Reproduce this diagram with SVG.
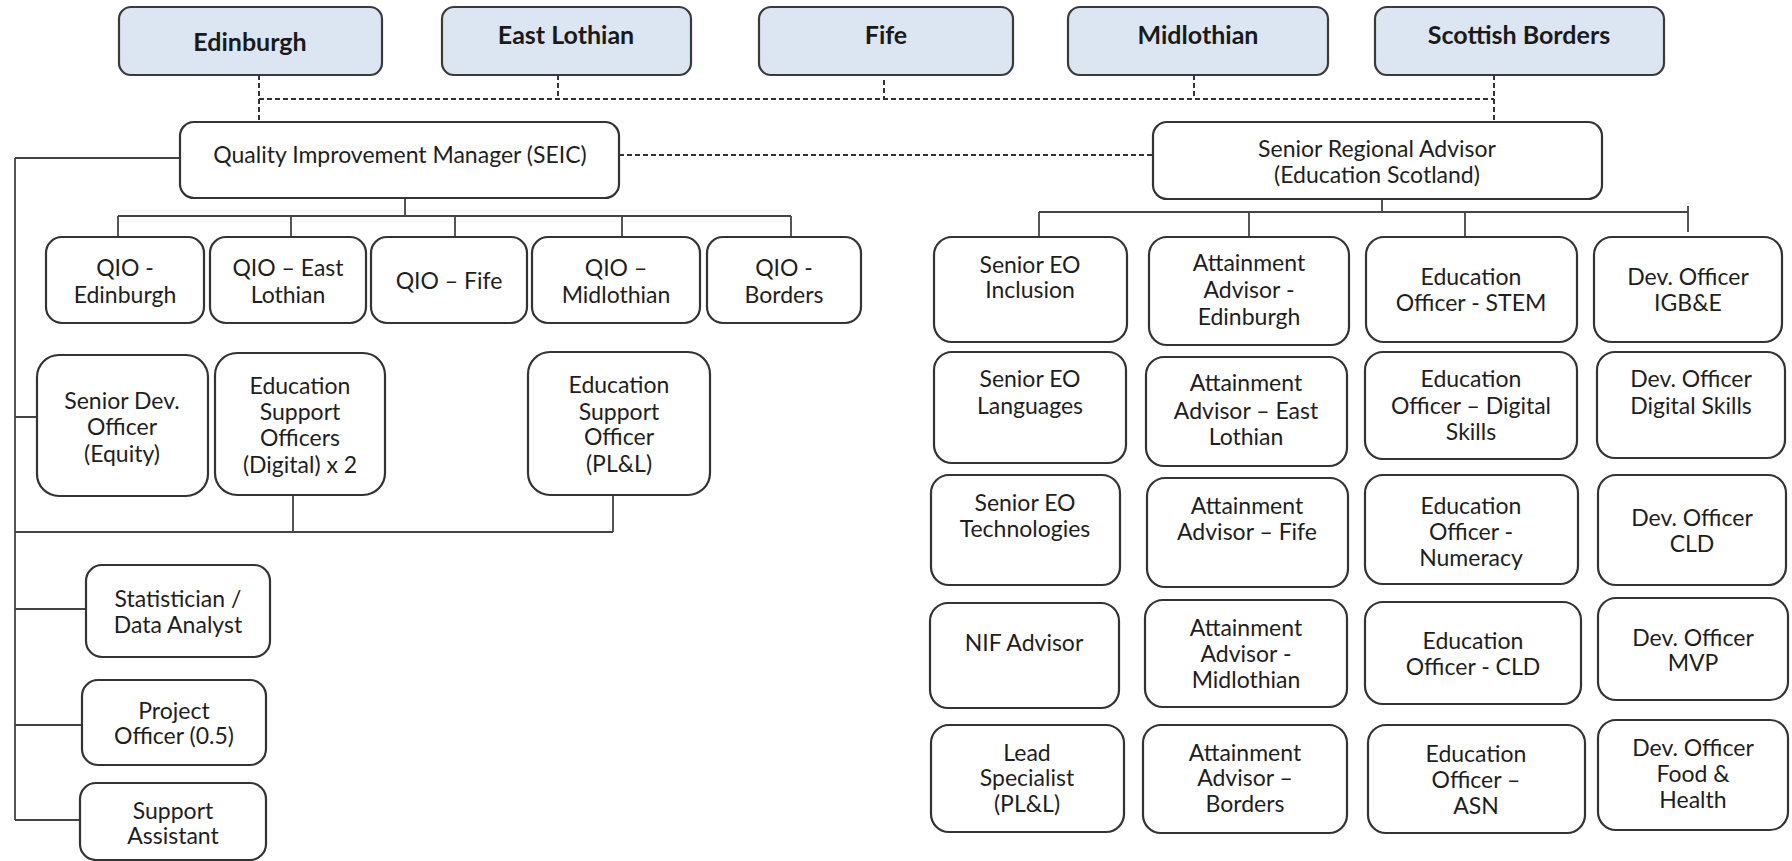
<svg xmlns="http://www.w3.org/2000/svg" width="1792" height="861" viewBox="0 0 1792 861">
<style>
.top{fill:#dce6f2;stroke:#3a3a3a;stroke-width:2.2}
.box{fill:#ffffff;stroke:#333333;stroke-width:2.2}
.tb{font-family:Lato,"Liberation Sans",sans-serif;font-weight:bold;font-size:25px;fill:#1a1a1a;text-anchor:middle}
.t{font-family:Lato,"Liberation Sans",sans-serif;font-size:23px;fill:#1e1e1e;text-anchor:middle}
.ln{stroke:#444;stroke-width:1.8;fill:none}
.dash{stroke:#333;stroke-width:2;stroke-dasharray:5 3;fill:none}
</style>
<rect width="1792" height="861" fill="#ffffff"/>
<g id="connectors">
<path class="dash" d="M259 75V122M558 75V99M884 80V99M1194 75V99M1494 75V122M259 99H1494M619 155H1153"/>
<path class="ln" d="M15 158V820M15 158H180M405 198V216M118 216H791M118 216V237M291 216V237M455 216V237M622 216V237M791 216V237M15 417H37M293 495V532M613 495V532M15 532H613M15 609H86M15 725H82M15 820H80M1382 199V212M1039 212H1688M1039 212V237M1249 212V237M1465 212V237M1688 206V232"/>
</g>
<g id="edinburgh"><rect class="top" x="119" y="7" width="263" height="68" rx="12"/><text class="tb" x="250" y="51">Edinburgh</text></g>
<g id="east-lothian"><rect class="top" x="442" y="7" width="249" height="68" rx="12"/><text class="tb" x="566" y="44">East Lothian</text></g>
<g id="fife"><rect class="top" x="759" y="7" width="254" height="68" rx="12"/><text class="tb" x="886" y="44">Fife</text></g>
<g id="midlothian"><rect class="top" x="1068" y="7" width="260" height="68" rx="12"/><text class="tb" x="1198" y="44">Midlothian</text></g>
<g id="scottish-borders"><rect class="top" x="1375" y="7" width="289" height="68" rx="12"/><text class="tb" x="1519" y="44">Scottish Borders</text></g>
<g id="qim"><rect class="box" x="180" y="122" width="439" height="76" rx="14"/><text class="t" x="400" y="163">Quality Improvement Manager (SEIC)</text></g>
<g id="sra"><rect class="box" x="1153" y="122" width="449" height="77" rx="14"/><text class="t" x="1377" y="157">Senior Regional Advisor</text><text class="t" x="1377" y="183">(Education Scotland)</text></g>
<g id="qio-edinburgh"><rect class="box" x="46" y="237" width="158" height="86" rx="16"/><text class="t" x="125" y="276">QIO -</text><text class="t" x="125" y="303">Edinburgh</text></g>
<g id="qio-east-lothian"><rect class="box" x="210" y="237" width="156" height="86" rx="16"/><text class="t" x="288" y="276">QIO – East</text><text class="t" x="288" y="303">Lothian</text></g>
<g id="qio-fife"><rect class="box" x="371" y="237" width="156" height="86" rx="16"/><text class="t" x="449" y="289">QIO – Fife</text></g>
<g id="qio-midlothian"><rect class="box" x="532" y="237" width="168" height="86" rx="16"/><text class="t" x="616" y="276">QIO –</text><text class="t" x="616" y="303">Midlothian</text></g>
<g id="qio-borders"><rect class="box" x="707" y="237" width="154" height="86" rx="16"/><text class="t" x="784" y="276">QIO -</text><text class="t" x="784" y="303">Borders</text></g>
<g id="senior-dev-officer"><rect class="box" x="37" y="355" width="171" height="141" rx="22"/><text class="t" x="122" y="409">Senior Dev.</text><text class="t" x="122" y="435">Officer</text><text class="t" x="122" y="462">(Equity)</text></g>
<g id="eso-digital"><rect class="box" x="215" y="353" width="170" height="142" rx="22"/><text class="t" x="300" y="394">Education</text><text class="t" x="300" y="420">Support</text><text class="t" x="300" y="446">Officers</text><text class="t" x="300" y="473">(Digital) x 2</text></g>
<g id="eso-pll"><rect class="box" x="528" y="352" width="182" height="143" rx="22"/><text class="t" x="619" y="393">Education</text><text class="t" x="619" y="420">Support</text><text class="t" x="619" y="445">Officer</text><text class="t" x="619" y="472">(PL&amp;L)</text></g>
<g id="statistician"><rect class="box" x="86" y="565" width="184" height="92" rx="16"/><text class="t" x="178" y="607">Statistician /</text><text class="t" x="178" y="633">Data Analyst</text></g>
<g id="project-officer"><rect class="box" x="82" y="680" width="184" height="85" rx="16"/><text class="t" x="174" y="719">Project</text><text class="t" x="174" y="744">Officer (0.5)</text></g>
<g id="support-assistant"><rect class="box" x="80" y="783" width="186" height="77" rx="16"/><text class="t" x="173" y="819">Support</text><text class="t" x="173" y="844">Assistant</text></g>
<g id="senior-eo-inclusion"><rect class="box" x="934" y="237" width="193" height="105" rx="18"/><text class="t" x="1030" y="273">Senior EO</text><text class="t" x="1030" y="298">Inclusion</text></g>
<g id="aa-edinburgh"><rect class="box" x="1149" y="237" width="200" height="108" rx="18"/><text class="t" x="1249" y="271">Attainment</text><text class="t" x="1249" y="298">Advisor -</text><text class="t" x="1249" y="325">Edinburgh</text></g>
<g id="eo-stem"><rect class="box" x="1366" y="237" width="211" height="105" rx="18"/><text class="t" x="1471" y="285">Education</text><text class="t" x="1471" y="311">Officer - STEM</text></g>
<g id="do-igbe"><rect class="box" x="1594" y="237" width="188" height="105" rx="18"/><text class="t" x="1688" y="285">Dev. Officer</text><text class="t" x="1688" y="311">IGB&amp;E</text></g>
<g id="senior-eo-languages"><rect class="box" x="934" y="352" width="192" height="111" rx="18"/><text class="t" x="1030" y="387">Senior EO</text><text class="t" x="1030" y="414">Languages</text></g>
<g id="aa-east-lothian"><rect class="box" x="1146" y="357" width="201" height="109" rx="18"/><text class="t" x="1246" y="391">Attainment</text><text class="t" x="1246" y="419">Advisor – East</text><text class="t" x="1246" y="445">Lothian</text></g>
<g id="eo-digital"><rect class="box" x="1365" y="352" width="212" height="107" rx="18"/><text class="t" x="1471" y="387">Education</text><text class="t" x="1471" y="414">Officer – Digital</text><text class="t" x="1471" y="440">Skills</text></g>
<g id="do-digital"><rect class="box" x="1597" y="352" width="188" height="106" rx="18"/><text class="t" x="1691" y="387">Dev. Officer</text><text class="t" x="1691" y="414">Digital Skills</text></g>
<g id="senior-eo-technologies"><rect class="box" x="931" y="475" width="189" height="110" rx="18"/><text class="t" x="1025" y="511">Senior EO</text><text class="t" x="1025" y="537">Technologies</text></g>
<g id="aa-fife"><rect class="box" x="1147" y="478" width="201" height="109" rx="18"/><text class="t" x="1247" y="514">Attainment</text><text class="t" x="1247" y="540">Advisor – Fife</text></g>
<g id="eo-numeracy"><rect class="box" x="1365" y="475" width="213" height="109" rx="18"/><text class="t" x="1471" y="514">Education</text><text class="t" x="1471" y="540">Officer -</text><text class="t" x="1471" y="566">Numeracy</text></g>
<g id="do-cld"><rect class="box" x="1598" y="475" width="188" height="110" rx="18"/><text class="t" x="1692" y="526">Dev. Officer</text><text class="t" x="1692" y="552">CLD</text></g>
<g id="nif-advisor"><rect class="box" x="930" y="603" width="189" height="105" rx="18"/><text class="t" x="1024" y="651">NIF Advisor</text></g>
<g id="aa-midlothian"><rect class="box" x="1145" y="600" width="202" height="107" rx="18"/><text class="t" x="1246" y="636">Attainment</text><text class="t" x="1246" y="662">Advisor -</text><text class="t" x="1246" y="688">Midlothian</text></g>
<g id="eo-cld"><rect class="box" x="1365" y="602" width="216" height="102" rx="18"/><text class="t" x="1473" y="649">Education</text><text class="t" x="1473" y="675">Officer - CLD</text></g>
<g id="do-mvp"><rect class="box" x="1598" y="598" width="190" height="102" rx="18"/><text class="t" x="1693" y="646">Dev. Officer</text><text class="t" x="1693" y="671">MVP</text></g>
<g id="lead-specialist"><rect class="box" x="931" y="725" width="193" height="107" rx="18"/><text class="t" x="1027" y="761">Lead</text><text class="t" x="1027" y="786">Specialist</text><text class="t" x="1027" y="812">(PL&amp;L)</text></g>
<g id="aa-borders"><rect class="box" x="1143" y="725" width="204" height="108" rx="18"/><text class="t" x="1245" y="761">Attainment</text><text class="t" x="1245" y="786">Advisor –</text><text class="t" x="1245" y="812">Borders</text></g>
<g id="eo-asn"><rect class="box" x="1368" y="725" width="217" height="108" rx="18"/><text class="t" x="1476" y="762">Education</text><text class="t" x="1476" y="788">Officer –</text><text class="t" x="1476" y="814">ASN</text></g>
<g id="do-food-health"><rect class="box" x="1598" y="720" width="190" height="110" rx="18"/><text class="t" x="1693" y="756">Dev. Officer</text><text class="t" x="1693" y="782">Food &amp;</text><text class="t" x="1693" y="808">Health</text></g>
</svg>
